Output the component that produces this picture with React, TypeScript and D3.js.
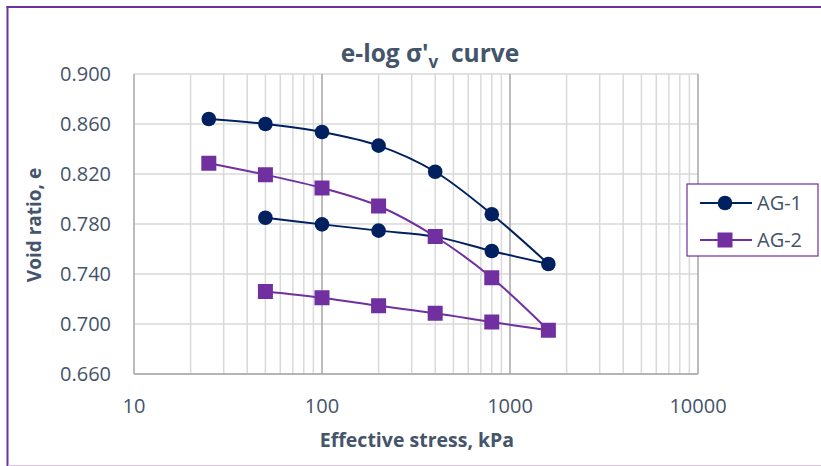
import React from "react";
import * as d3 from "d3";

// Effective stress (kPa) – loading branch then unloading branch
const loadStress = [25, 50, 100, 200, 400, 800, 1600];
const unloadStress = [1600, 800, 400, 200, 100, 50];

// Void ratio, AG-1
const ag1Load = [0.864, 0.86, 0.8536, 0.8427, 0.8218, 0.7878, 0.748];
const ag1Unload = [0.748, 0.7584, 0.7699, 0.7747, 0.7797, 0.785];

// Void ratio, AG-2
const ag2Load = [0.8286, 0.8194, 0.8088, 0.7944, 0.77, 0.737, 0.695];
const ag2Unload = [0.695, 0.7016, 0.7086, 0.7146, 0.721, 0.726];

const yTicks = [0.66, 0.7, 0.74, 0.78, 0.82, 0.86, 0.9];
const xTicks = [10, 100, 1000, 10000];

const W = 821;
const H = 466;
const FONT = "'Open Sans', sans-serif";
const TXT = "#44546A";
const NAVY = "#002060";
const PURPLE = "#7030A0";

export default function App() {
  const x = d3.scaleLog().domain([10, 10000]).range([134, 698]);
  const y = d3.scaleLinear().domain([0.66, 0.9]).range([374, 74]);

  const line = d3
    .line<[number, number]>()
    .x((d) => x(d[0]))
    .y((d) => y(d[1]))
    .curve(d3.curveCatmullRom.alpha(0.5));

  const minor: number[] = [];
  for (let dec = 10; dec < 10000; dec *= 10) {
    for (let k = 2; k <= 9; k++) minor.push(dec * k);
  }

  const series = [
    { name: "AG-1", color: NAVY, load: ag1Load, unload: ag1Unload, shape: "circle" },
    { name: "AG-2", color: PURPLE, load: ag2Load, unload: ag2Unload, shape: "square" },
  ];

  const marker = (shape: string, cx: number, cy: number, color: string, key: string) =>
    shape === "circle" ? (
      <circle key={key} cx={cx} cy={cy} r={7.3} fill={color} />
    ) : (
      <rect key={key} x={cx - 7.5} y={cy - 7.5} width={15} height={15} fill={color} />
    );

  return (
    <svg width={W} height={H} style={{ display: "block", position: "absolute", left: 0, top: 0 }}>
      <rect x={0} y={0} width={W} height={H} fill="#fff" />
      {/* chart frame */}
      <line x1={7.5} y1={6} x2={7.5} y2={466} stroke={PURPLE} strokeWidth={2} />
      <line x1={6.5} y1={7} x2={821} y2={7} stroke={PURPLE} strokeWidth={2} />
      <line x1={8} y1={465.5} x2={821} y2={465.5} stroke="#d9c6e6" strokeWidth={1} />

      {/* horizontal grid */}
      {yTicks.map((t) => (
        <line key={"hy" + t} x1={134} x2={698} y1={y(t)} y2={y(t)} stroke="#d9d9d9" strokeWidth={1.5} />
      ))}
      {/* minor vertical grid */}
      {minor.map((m) => (
        <line key={"mv" + m} x1={x(m)} x2={x(m)} y1={74} y2={374} stroke="#d9d9d9" strokeWidth={1.5} />
      ))}
      {/* major vertical grid */}
      {xTicks.map((t) => (
        <line key={"Mv" + t} x1={x(t)} x2={x(t)} y1={74} y2={374} stroke="#a6a6a6" strokeWidth={1.5} />
      ))}
      {/* bottom axis */}
      <line x1={134} x2={698} y1={374} y2={374} stroke="#a6a6a6" strokeWidth={1.5} />

      {/* y tick labels */}
      {yTicks.map((t) => (
        <text key={"yl" + t} x={111} y={y(t)} dy="0.36em" textAnchor="end" fontFamily={FONT} fontSize={20} fill={TXT}>
          {d3.format(".3f")(t)}
        </text>
      ))}
      {/* x tick labels */}
      {xTicks.map((t) => (
        <text key={"xl" + t} x={x(t)} y={413} textAnchor="middle" fontFamily={FONT} fontSize={20} fill={TXT}>
          {t}
        </text>
      ))}

      {/* series */}
      {series.map((s) => {
        const loadPts = loadStress.map((v, i) => [v, s.load[i]] as [number, number]);
        const unloadPts = unloadStress.map((v, i) => [v, s.unload[i]] as [number, number]);
        return (
          <g key={s.name}>
            <path d={line(loadPts) || ""} fill="none" stroke={s.color} strokeWidth={2} />
            <path d={line(unloadPts) || ""} fill="none" stroke={s.color} strokeWidth={2} />
            {loadPts.map((p, i) => marker(s.shape, x(p[0]), y(p[1]), s.color, s.name + "l" + i))}
            {unloadPts.slice(1).map((p, i) => marker(s.shape, x(p[0]), y(p[1]), s.color, s.name + "u" + i))}
          </g>
        );
      })}

      {/* title */}
      <text x={430} y={62} textAnchor="middle" fontFamily={FONT} fontWeight="bold" fontSize={24.5} fill={TXT}>
        e-log σ'
        <tspan fontSize={17} dy={6}>v</tspan>
        <tspan dy={-6} xmlSpace="preserve">{"\u00a0 curve"}</tspan>
      </text>

      {/* axis titles */}
      <text
        transform="translate(41,225) rotate(-90)"
        textAnchor="middle"
        fontFamily={FONT}
        fontWeight="bold"
        fontSize={19}
        fill={TXT}
      >
        Void ratio, e
      </text>
      <text x={417} y={447} textAnchor="middle" fontFamily={FONT} fontWeight="bold" fontSize={19.5} fill={TXT}>
        Effective stress, kPa
      </text>

      {/* legend */}
      <rect x={687} y={184} width={131} height={72} fill="#fff" stroke={PURPLE} strokeWidth={1.2} />
      {series.map((s, i) => {
        const ly = 203 + i * 37;
        return (
          <g key={"lg" + s.name}>
            <line x1={700} x2={752} y1={ly} y2={ly} stroke={s.color} strokeWidth={2} />
            {marker(s.shape, 725, ly, s.color, "lm" + i)}
            <text x={757} y={ly} dy="0.36em" fontFamily={FONT} fontSize={20} fill={TXT}>
              {s.name}
            </text>
          </g>
        );
      })}
    </svg>
  );
}
